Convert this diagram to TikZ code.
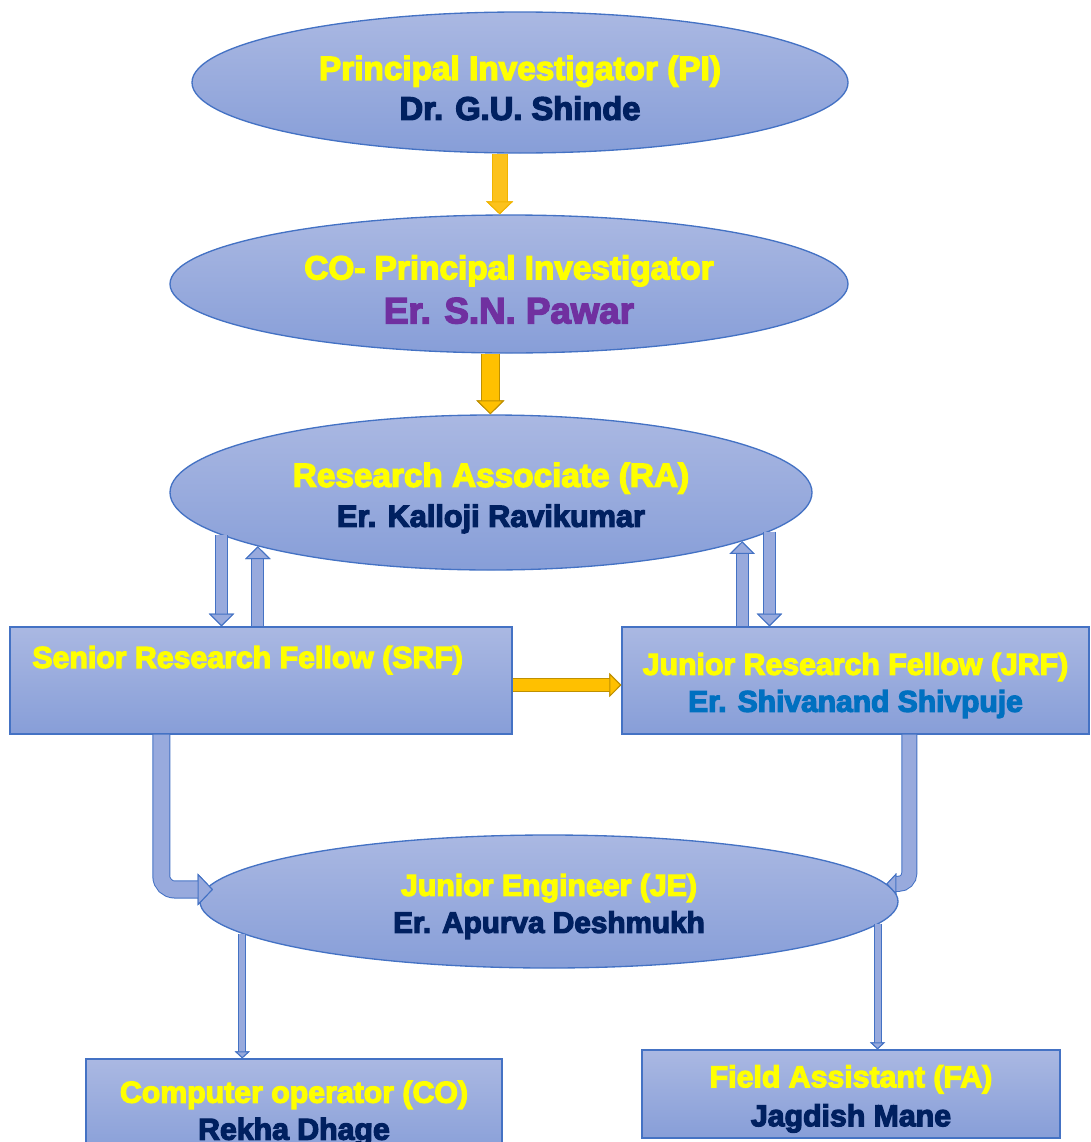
\documentclass[tikz,border=0pt]{standalone}
\usepackage{fontspec}
\setmainfont{Liberation Sans}[BoldFeatures={FakeBold=4}]
\usetikzlibrary{arrows.meta}
\usetikzlibrary{shapes.geometric,positioning}
\definecolor{roleyellow}{HTML}{FFFF00}
\definecolor{namenavy}{HTML}{002060}
\definecolor{namepurple}{HTML}{7030A0}
\definecolor{nameblue}{HTML}{0070C0}
\definecolor{shadetop}{HTML}{AAB8E2}
\definecolor{shadebot}{HTML}{879ED8}
\definecolor{edgeblue}{HTML}{4472C4}
\definecolor{arrowblue}{HTML}{98AADD}
\definecolor{goldfill}{HTML}{FFC000}
\definecolor{goldedge}{HTML}{BF9000}
\definecolor{goldlight}{HTML}{FCC21C}
\definecolor{goldsoft}{HTML}{F0B400}
\newcommand{\jobtitle}[1]{\rule{0pt}{1.05em}\textcolor{roleyellow}{#1}}
\newcommand{\person}[3]{{\fontsize{#2}{#2}\selectfont\color{#1}#3}}

\begin{document}
\begin{tikzpicture}[x=0.75pt,y=-0.75pt,
    shaded/.style={draw=edgeblue, line width=1pt, top color=shadetop, bottom color=shadebot, inner sep=0pt, align=center},
    bubble/.style={shaded, ellipse},
    panel/.style={shaded, rectangle},
    bigtext/.style={font=\fontsize{25pt}{30pt}\selectfont\bfseries},
    smalltext/.style={font=\fontsize{22.7pt}{27.75pt}\selectfont\bfseries},
    flow/.style n args={5}{line width=#1, draw=#4,
      -{Triangle[length=#3, width=#2, fill=#4, color=#5, line width=0.75pt]},
      preaction={draw=#5, line width=#1+1.5pt, -{Triangle[length=#3, width=#2, fill=#4, color=#5, line width=0.75pt]}}}]
      \useasboundingbox (0,0) rectangle (1090,1142);

      % people
      \node[bubble, bigtext, minimum width=492pt, minimum height=105.75pt]  (pi)   at (520,82.5)   {\jobtitle{Principal Investigator (PI)}\\\person{namenavy}{24.5pt}{Dr. G.U. Shinde}};
      \node[bubble, bigtext, minimum width=508.5pt, minimum height=103.5pt] (copi) at (509,284)    {\jobtitle{CO- Principal Investigator}\\[3pt]\person{namepurple}{27.5pt}{Er. S.N. Pawar}};
      \node[bubble, bigtext, minimum width=481.5pt, minimum height=116.25pt] (ra)  at (491,492.5)  {\jobtitle{Research Associate (RA)}\\\person{namenavy}{23pt}{Er. Kalloji Ravikumar}};
      \node[panel, smalltext, minimum width=376.5pt, minimum height=80.25pt] (srf)  at (261,680.5)  {\jobtitle{Senior Research Fellow (SRF)}\hspace*{20pt}\\[15pt]\mbox{}};
      \node[panel, smalltext, minimum width=350.25pt, minimum height=80.25pt] (jrf) at (855.5,680.5) {\jobtitle{Junior Research Fellow (JRF)}\\\person{nameblue}{22.5pt}{Er. Shivanand Shivpuje}};
      \node[bubble, smalltext, minimum width=523.5pt, minimum height=99.75pt] (je)  at (549,901.5)  {\jobtitle{Junior Engineer (JE)}\\\person{namenavy}{22.3pt}{Er. Apurva Deshmukh}};
      \node[panel, smalltext, minimum width=312pt, minimum height=74.25pt]   (co)   at (294,1108.5) {\jobtitle{Computer operator (CO)}\\\person{namenavy}{22.7pt}{Rekha Dhage}};
      \node[panel, smalltext, minimum width=313.5pt, minimum height=66pt]    (fa)   at (851,1094)   {\jobtitle{Field Assistant (FA)}\\[1.5pt]\person{namenavy}{22.7pt}{Jagdish Mane}};

      % reporting lines
      \draw[flow={10.5pt}{20.25pt}{9.75pt}{goldlight}{goldsoft}] (pi.254) -- (pi.254 |- copi.north);
      \draw[flow={12.75pt}{21pt}{10.5pt}{goldfill}{goldedge}]    (copi.255) -- (copi.255 |- ra.north);
      \draw[flow={8.25pt}{19pt}{9.5pt}{arrowblue}{edgeblue}]     (ra.189) -- (ra.189 |- srf.north);
      \draw[flow={8.25pt}{19pt}{9.5pt}{arrowblue}{edgeblue}]     (ra.193 |- srf.north) -- (ra.193);
      \draw[flow={8.25pt}{19pt}{9.5pt}{arrowblue}{edgeblue}]     (ra.349 |- jrf.north) -- (ra.349);
      \draw[flow={8.25pt}{19pt}{9.5pt}{arrowblue}{edgeblue}]     (ra.352) -- (ra.352 |- jrf.north);
      \draw[flow={9pt}{18pt}{9pt}{goldfill}{goldedge}]           ([yshift=-3.4pt]srf.east) -- ([yshift=-3.4pt]jrf.west);
      \draw[flow={12pt}{24pt}{11.5pt}{arrowblue}{edgeblue}, rounded corners=10pt] ([xshift=114pt]srf.south west) |- ([xshift=6pt]je.178);
      \draw[flow={10.5pt}{16pt}{7.5pt}{arrowblue}{edgeblue}, rounded corners=8pt]  ([xshift=216pt]jrf.south west) |- (je.3);
      \draw[flow={4.5pt}{11.25pt}{5.25pt}{arrowblue}{edgeblue}]  (je.186) -- (je.186 |- co.north);
      \draw[flow={4.5pt}{11.25pt}{5.25pt}{arrowblue}{edgeblue}]  (je.356) -- (je.356 |- fa.north);
    \end{tikzpicture}
\end{document}
